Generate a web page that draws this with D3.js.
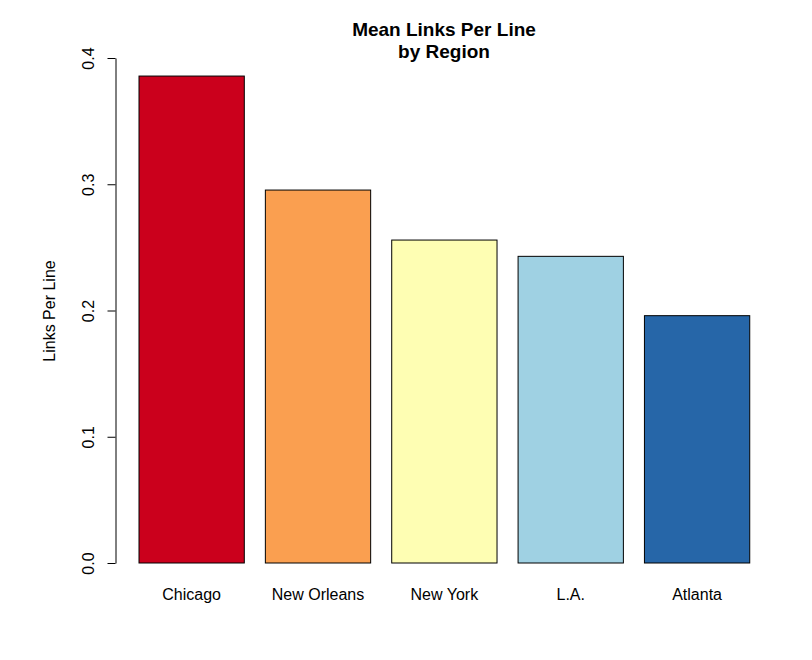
<!DOCTYPE html>
<html><head><meta charset="utf-8">
<script src="https://cdn.jsdelivr.net/npm/d3@7"></script>
<style>body{margin:0;background:#fff}svg{display:block}text{font-family:"Liberation Sans",Arial,Helvetica,sans-serif}</style>
</head><body>
<script>
const categories = ["Chicago", "New Orleans", "New York", "L.A.", "Atlanta"];
const values = [0.3857, 0.2954, 0.2558, 0.2429, 0.1959];
const colors = ["#CB001C", "#FA9F50", "#FEFEB3", "#9FD1E3", "#2666A8"];
const yTicks = [0.0, 0.1, 0.2, 0.3, 0.4];
const titleLines = ["Mean Links Per Line", "by Region"];
const yLabel = "Links Per Line";

const W = 812, H = 660;
const svg = d3.select("body").append("svg").attr("width", W).attr("height", H);

// R-style barplot: width 1, space 0.2 -> domain in bar units
const unit = 105.3;
const x0 = 139 - 0.2 * unit;
const x = d3.scaleLinear().domain([0, 6.2]).range([x0, x0 + 6.2 * unit]);
const y = d3.scaleLinear().domain([0, 0.4]).range([563, 58]);

const bars = categories.map((c, i) => ({c, v: values[i], col: colors[i], l: 0.2 + i * 1.2}));

svg.selectAll("rect.bar").data(bars).enter().append("rect")
  .attr("x", d => x(d.l)).attr("width", d => x(d.l + 1) - x(d.l))
  .attr("y", d => y(d.v)).attr("height", d => y(0) - y(d.v))
  .attr("fill", d => d.col).attr("stroke", "#000").attr("stroke-width", 1);

// y axis
const axis = d3.axisLeft(y).tickValues(yTicks).tickFormat(d3.format(".1f")).tickSize(8).tickSizeOuter(0);
const g = svg.append("g").attr("transform", "translate(115.5,0)").call(axis);
g.select(".domain").attr("stroke", "#000");
g.selectAll(".tick line").attr("stroke", "#000");
g.selectAll(".tick text").attr("font-size", 16).attr("fill", "#000")
  .attr("text-anchor", "middle").attr("dy", 0).attr("x", 0)
  .attr("transform", "translate(-28,0) rotate(-90)")
  .attr("y", 6);

// category labels
svg.selectAll("text.cat").data(bars).enter().append("text")
  .attr("x", d => x(d.l + 0.5)).attr("y", 600).attr("text-anchor", "middle")
  .attr("font-size", 16).attr("fill", "#000").text(d => d.c);

// title
svg.selectAll("text.title").data(titleLines).enter().append("text")
  .attr("x", 444).attr("y", (d, i) => 36 + i * 22).attr("text-anchor", "middle")
  .attr("font-size", 19).attr("font-weight", "bold").attr("fill", "#000").text(d => d);

// y label
svg.append("text").attr("transform", "translate(55,311) rotate(-90)")
  .attr("text-anchor", "middle").attr("font-size", 16).attr("fill", "#000").text(yLabel);
</script>
</body></html>
